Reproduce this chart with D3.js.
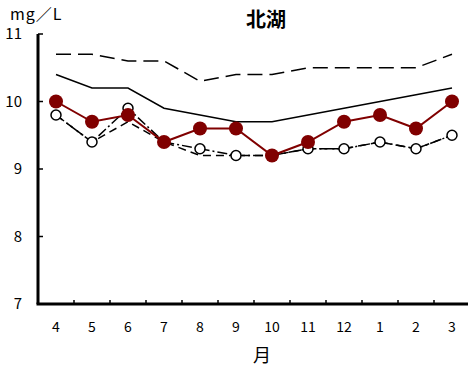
<!DOCTYPE html>
<html>
<head>
<meta charset="utf-8">
<script src="https://cdn.jsdelivr.net/npm/d3@7"></script>
<style>
  body { margin: 0; background: #fff; }
  svg { display: block; font-family: "Noto Sans CJK JP", "DejaVu Sans", sans-serif; }
</style>
</head>
<body>
<svg id="chart" width="468" height="369"></svg>
<script>
// Data
var months = ["4", "5", "6", "7", "8", "9", "10", "11", "12", "1", "2", "3"];
var thisYear = [10.0, 9.7, 9.8, 9.4, 9.6, 9.6, 9.2, 9.4, 9.7, 9.8, 9.6, 10.0];
var lastYear = [9.8, 9.4, 9.9, 9.4, 9.3, 9.2, 9.2, 9.3, 9.3, 9.4, 9.3, 9.5];
var pastMax = [10.7, 10.7, 10.6, 10.6, 10.3, 10.4, 10.4, 10.5, 10.5, 10.5, 10.5, 10.7];
var pastAvg = [10.4, 10.2, 10.2, 9.9, 9.8, 9.7, 9.7, 9.8, 9.9, 10.0, 10.1, 10.2];
var pastMin = [9.8, 9.4, 9.7, 9.4, 9.2, 9.2, 9.2, 9.3, 9.3, 9.4, 9.3, 9.5];
var yTicks = [7, 8, 9, 10, 11];

var svg = d3.select("#chart"),
    margin = {top: 34, right: -2, bottom: 65, left: 38},
    width = +svg.attr("width") - margin.left - margin.right,
    height = +svg.attr("height") - margin.top - margin.bottom,
    g = svg.append("g").attr("transform", "translate(" + margin.left + "," + margin.top + ")");

var x = d3.scaleBand().domain(months).range([0, width]);
var y = d3.scaleLinear().domain([7, 11]).range([height, 0]);

var line = d3.line()
    .x(function(d, i) { return x(months[i]) + x.bandwidth() / 2; })
    .y(function(d) { return y(d); });

// tick marks (inward)
g.selectAll(".ytick").data(yTicks).enter().append("line")
    .attr("x1", 0).attr("x2", 5)
    .attr("y1", function(d) { return y(d); })
    .attr("y2", function(d) { return y(d); })
    .attr("stroke", "#000").attr("stroke-width", 1.5);

g.selectAll(".xtick").data(months.slice(1)).enter().append("line")
    .attr("x1", function(d) { return x(d); })
    .attr("x2", function(d) { return x(d); })
    .attr("y1", height).attr("y2", height - 4)
    .attr("stroke", "#000").attr("stroke-width", 1.5);

// axes
g.append("line").attr("x1", 0).attr("x2", 0).attr("y1", 0).attr("y2", height)
    .attr("stroke", "#000").attr("stroke-width", 3);
g.append("line").attr("x1", -1.5).attr("x2", width).attr("y1", height).attr("y2", height)
    .attr("stroke", "#000").attr("stroke-width", 3);

// y labels
g.selectAll(".ylab").data(yTicks).enter().append("text")
    .attr("x", -16)
    .attr("y", function(d) { return y(d); })
    .attr("dy", "0.35em")
    .attr("text-anchor", "end")
    .attr("font-size", 15)
    .text(function(d) { return d; });

// x labels
g.selectAll(".xlab").data(months).enter().append("text")
    .attr("x", function(d) { return x(d) + x.bandwidth() / 2; })
    .attr("y", height + 28)
    .attr("text-anchor", "middle")
    .attr("font-size", 14)
    .text(function(d) { return d; });

svg.append("text").attr("x", 262).attr("y", 362)
    .attr("text-anchor", "middle").attr("font-size", 18).text("月");
svg.append("text").attr("x", 10).attr("y", 20)
    .attr("font-size", 16).attr("letter-spacing", 1).text("mg／L");
svg.append("text").attr("x", 266).attr("y", 27)
    .attr("text-anchor", "middle").attr("font-size", 20).attr("font-weight", "bold").text("北湖");

// past max / avg / min
g.append("path").datum(pastMax).attr("d", line)
    .attr("fill", "none").attr("stroke", "#000").attr("stroke-width", 1.5)
    .attr("stroke-dasharray", "15,7");
g.append("path").datum(pastAvg).attr("d", line)
    .attr("fill", "none").attr("stroke", "#000").attr("stroke-width", 1.5);
g.append("path").datum(pastMin).attr("d", line)
    .attr("fill", "none").attr("stroke", "#000").attr("stroke-width", 1.5)
    .attr("stroke-dasharray", "8,5");

// last year
g.append("path").datum(lastYear).attr("d", line)
    .attr("fill", "none").attr("stroke", "#000").attr("stroke-width", 1.5)
    .attr("stroke-dasharray", "10,3,2,3");
g.selectAll(".last").data(lastYear).enter().append("circle")
    .attr("cx", function(d, i) { return x(months[i]) + x.bandwidth() / 2; })
    .attr("cy", function(d) { return y(d); })
    .attr("r", 5)
    .attr("fill", "#fff").attr("stroke", "#000").attr("stroke-width", 1.5);

// this year
g.append("path").datum(thisYear).attr("d", line)
    .attr("fill", "none").attr("stroke", "#800000").attr("stroke-width", 2);
g.selectAll(".this").data(thisYear).enter().append("circle")
    .attr("cx", function(d, i) { return x(months[i]) + x.bandwidth() / 2; })
    .attr("cy", function(d) { return y(d); })
    .attr("r", 7)
    .attr("fill", "#800000");
</script>
</body>
</html>
